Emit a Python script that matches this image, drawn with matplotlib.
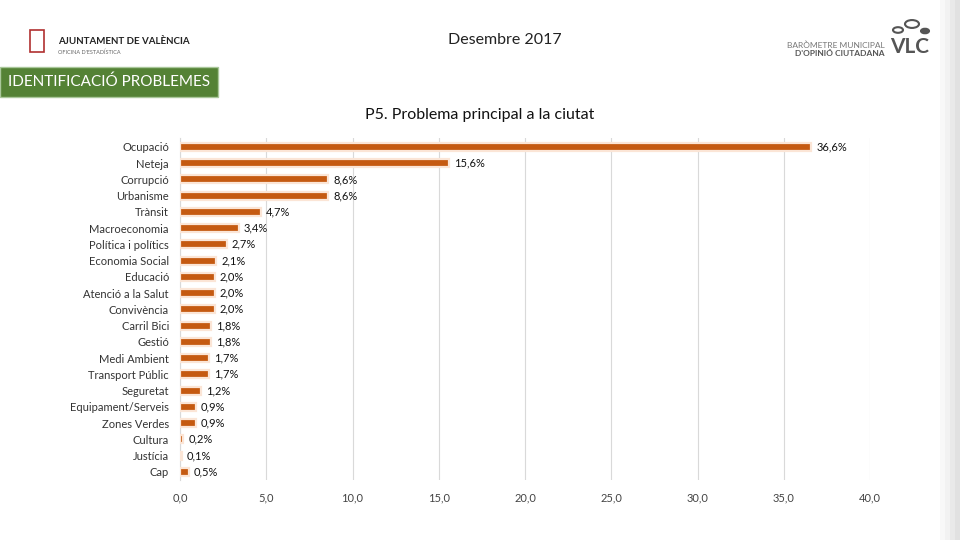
import matplotlib
matplotlib.use("Agg")
import matplotlib.pyplot as plt
from matplotlib.patches import Rectangle, Circle

categories = ["Ocupació", "Neteja", "Corrupció", "Urbanisme", "Trànsit", "Macroeconomia",
              "Política i polítics", "Economia Social", "Educació", "Atenció a la Salut",
              "Convivència", "Carril Bici", "Gestió", "Medi Ambient", "Transport Públic",
              "Seguretat", "Equipament/Serveis", "Zones Verdes", "Cultura", "Justícia", "Cap"]
values = [36.6, 15.6, 8.6, 8.6, 4.7, 3.4, 2.7, 2.1, 2.0, 2.0, 2.0, 1.8, 1.8, 1.7, 1.7,
          1.2, 0.9, 0.9, 0.2, 0.1, 0.5]
xticks = [0, 5, 10, 15, 20, 25, 30, 35, 40]

plt.rcParams['font.family'] = ['Lato', 'DejaVu Sans']

fig = plt.figure(figsize=(9.6, 5.4), dpi=100)
fig.patch.set_facecolor("white")

# header texts
fig.text(505/960, 1-40/540, "Desembre 2017", ha="center", va="center", fontsize=11.5, color="#222222")
fig.text(480/960, 1-115/540, "P5. Problema principal a la ciutat", ha="center", va="center",
         fontsize=11.5, color="#111111")

# green banner
fig.patches.append(Rectangle((0, 1-97/540), 218/960, 30/540, transform=fig.transFigure,
                             facecolor="#548235", edgecolor="#a9c79a", linewidth=1, zorder=1))
fig.text(109/960, 1-82/540, "IDENTIFICACIÓ PROBLEMES", ha="center", va="center",
         fontsize=11, color="white")

# left logo (approximation)
fig.patches.append(Rectangle((30/960, 1-52/540), 14/960, 22/540, transform=fig.transFigure,
                             facecolor="white", edgecolor="#b03030", linewidth=1.2))
fig.text(58/960, 1-41/540, "AJUNTAMENT DE VALÈNCIA", ha="left", va="center",
         fontsize=7, fontweight="bold", color="#222222")
fig.text(58/960, 1-52/540, "OFICINA D'ESTADÍSTICA", ha="left", va="center",
         fontsize=4, color="#666666")

# right logo (approximation)
fig.text(885/960, 1-45/540, "BARÒMETRE MUNICIPAL", ha="right", va="center",
         fontsize=6, color="#777777")
fig.text(885/960, 1-54/540, "D'OPINIÓ CIUTADANA", ha="right", va="center",
         fontsize=6, fontweight="bold", color="#555555")
fig.text(890/960, 1-47/540, "VLC", ha="left", va="center", fontsize=15,
         fontweight="bold", color="#555555")
for (cx, cy, r, fc) in [(898, 30, 5, "none"), (912, 24, 7, "none"), (925, 31, 4, "#555555")]:
    fig.patches.append(Circle((cx/960, 1-cy/540), r/960, transform=fig.transFigure,
                              facecolor=fc, edgecolor="#555555", linewidth=1.5))

# decorative grey streak on the right
for i, a in enumerate([0.05, 0.1, 0.18, 0.25]):
    fig.patches.append(Rectangle(((940+i*5)/960, 0), 5/960, 1, transform=fig.transFigure,
                                 facecolor="#888888", alpha=a, edgecolor="none", zorder=0))

ax = fig.add_axes([180/960, 1-480/540, 690/960, 342/540])
y = list(range(len(categories)))
ax.barh(y, values, height=0.5, color="#C55A11", edgecolor="#FBE5D6", linewidth=1.6, zorder=3)
for yi, v in zip(y, values):
    ax.text(v + 0.3, yi, f"{v:.1f}%".replace(".", ","), va="center", ha="left",
            fontsize=8, color="#111111", zorder=4)

ax.set_xlim(0, 40)
ax.set_ylim(20.5, -0.55)
ax.set_yticks(y)
ax.set_yticklabels(categories, fontsize=8, color="#333333")
ax.set_xticks(xticks)
ax.set_xticklabels([f"{t:.1f}".replace(".", ",") for t in xticks], fontsize=8, color="#444444")
ax.tick_params(axis="both", length=0)
ax.tick_params(axis="x", pad=9)
ax.tick_params(axis="y", pad=8)
ax.grid(axis="x", color="#d9d9d9", linewidth=0.8, zorder=0)
for s in ["top", "right", "bottom"]:
    ax.spines[s].set_visible(False)
ax.spines["left"].set_color("#d9d9d9")
ax.set_facecolor("none")

fig.savefig("out.png", dpi=100)
